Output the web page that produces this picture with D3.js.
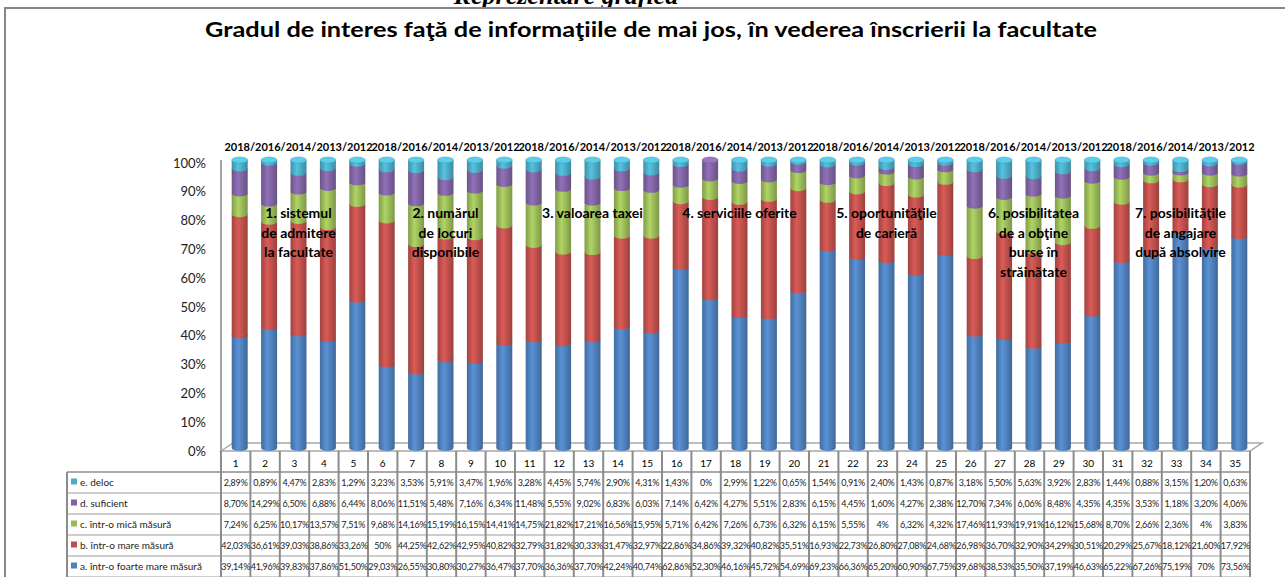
<!DOCTYPE html>
<html>
<head>
<meta charset="utf-8">
<script src="https://cdnjs.cloudflare.com/ajax/libs/d3/7.8.5/d3.min.js"></script>
<style>
    body { margin: 0; background: #fff; }
    svg { display: block; font-family: Lato, "Open Sans", sans-serif; }
</style>
</head>
<body>
<svg id="chart" width="1285" height="577"></svg>
<script>
var columns = ["1","2","3","4","5","6","7","8","9","10","11","12","13","14","15","16","17","18",
    "19","20","21","22","23","24","25","26","27","28","29","30","31","32","33","34","35"];

var seriesNames = ["a. într-o foarte mare măsură", "b. într-o  mare măsură", "c. într-o mică  măsură",
    "d. suficient", "e. deloc"];
var seriesColors = ["#4F81BD", "#C0504D", "#9BBB59", "#8064A2", "#4BACC6"];

var foarteMare = [39.14, 41.96, 39.83, 37.86, 51.50, 29.03, 26.55, 30.80, 30.27, 36.47, 37.70, 36.36,
    37.70, 42.24, 40.74, 62.86, 52.30, 46.16, 45.72, 54.69, 69.23, 66.36, 65.20, 60.90, 67.75, 39.68,
    38.53, 35.50, 37.19, 46.63, 65.22, 67.26, 75.19, 70, 73.56];
var mare = [42.03, 36.61, 39.03, 38.86, 33.26, 50, 44.25, 42.62, 42.95, 40.82, 32.79, 31.82, 30.33,
    31.47, 32.97, 22.86, 34.86, 39.32, 40.82, 35.51, 16.93, 22.73, 26.80, 27.08, 24.68, 26.98, 36.70,
    32.90, 34.29, 30.51, 20.29, 25.67, 18.12, 21.60, 17.92];
var mica = [7.24, 6.25, 10.17, 13.57, 7.51, 9.68, 14.16, 15.19, 16.15, 14.41, 14.75, 21.82, 17.21,
    16.56, 15.95, 5.71, 6.42, 7.26, 6.73, 6.32, 6.15, 5.55, 4, 6.32, 4.32, 17.46, 11.93, 19.91, 16.12,
    15.68, 8.70, 2.66, 2.36, 4, 3.83];
var suficient = [8.70, 14.29, 6.50, 6.88, 6.44, 8.06, 11.51, 5.48, 7.16, 6.34, 11.48, 5.55, 9.02,
    6.83, 6.03, 7.14, 6.42, 4.27, 5.51, 2.83, 6.15, 4.45, 1.60, 4.27, 2.38, 12.70, 7.34, 6.06, 8.48,
    4.35, 4.35, 3.53, 1.18, 3.20, 4.06];
var deloc = [2.89, 0.89, 4.47, 2.83, 1.29, 3.23, 3.53, 5.91, 3.47, 1.96, 3.28, 4.45, 5.74, 2.90,
    4.31, 1.43, 0, 2.99, 1.22, 0.65, 1.54, 0.91, 2.40, 1.43, 0.87, 3.18, 5.50, 5.63, 3.92, 2.83, 1.44,
    0.88, 3.15, 1.20, 0.63];

var yearsLabel = "2018/2016/2014/2013/2012";
var groupTitles = [
    ["1. sistemul", "de admitere", "la facultate"],
    ["2. numărul", "de locuri", "disponibile"],
    ["3. valoarea taxei"],
    ["4. serviciile oferite"],
    ["5. oportunităţile", "de carieră"],
    ["6. posibilitatea", "de a obţine", "burse în", "străinătate"],
    ["7. posibilităţile", "de angajare", "după absolvire"]
];
var yTicks = [0, 10, 20, 30, 40, 50, 60, 70, 80, 90, 100];

var allSeries = [foarteMare, mare, mica, suficient, deloc];

var svg = d3.select("#chart");
var defs = svg.append("defs");

// outer frame + heading that is cut off by the page top
svg.append("text")
    .attr("x", 566).attr("y", 4)
    .attr("text-anchor", "middle")
    .style("font-family", "'Liberation Serif', serif")
    .style("font-style", "italic").style("font-weight", "bold")
    .style("font-size", "26px")
    .text("Reprezentare grafică");

svg.append("rect")
    .attr("x", 5).attr("y", 8).attr("width", 1290).attr("height", 600)
    .attr("fill", "none").attr("stroke", "#868686").attr("stroke-width", 2);

svg.append("text")
    .attr("x", 651).attr("y", 37)
    .attr("text-anchor", "middle")
    .style("font-weight", "bold").style("font-size", "20px")
    .attr("textLength", 892).attr("lengthAdjust", "spacingAndGlyphs")
    .text("Gradul de interes faţă de informaţiile de mai jos, în vederea înscrierii la facultate");

var x = d3.scaleBand().domain(columns).range([221, 1250]);
var y = d3.scaleLinear().domain([0, 100]).range([448, 160]);
var depth = 4;
var barW = 16;
var ry = 3;

// cylinder gradients
seriesColors.forEach(function(c, i) {
    var g = defs.append("linearGradient").attr("id", "cyl" + i)
        .attr("x1", "0%").attr("x2", "100%").attr("y1", "0%").attr("y2", "0%");
    g.append("stop").attr("offset", "0%").attr("stop-color", d3.color(c).darker(0.5));
    g.append("stop").attr("offset", "40%").attr("stop-color", d3.color(c).brighter(0.35));
    g.append("stop").attr("offset", "100%").attr("stop-color", d3.color(c).darker(0.6));
});

// floor and axis line
var floorPts = [[221, 451], [233, 443], [1262, 443], [1250, 451]];
svg.append("path")
    .attr("d", "M" + floorPts.join("L") + "Z")
    .attr("fill", "none").attr("stroke", "#a6a6a6").attr("stroke-width", 1.5);
svg.append("line")
    .attr("x1", 221).attr("x2", 221).attr("y1", 160).attr("y2", 451)
    .attr("stroke", "#a6a6a6").attr("stroke-width", 2);

var yAxis = svg.append("g")
    .attr("transform", "translate(209,3)")
    .call(d3.axisLeft(y).tickValues(yTicks).tickSize(0).tickFormat(function(d) { return d + "%"; }));
yAxis.select(".domain").remove();
yAxis.selectAll("text").style("font-size", "13px").style("font-family", "Lato, sans-serif")
    .attr("fill", "#222");

// stacked cylinders
var bars = svg.append("g");
columns.forEach(function(col, i) {
    var cx = x(col) + x.bandwidth() / 2 + depth;
    var x0 = cx - barW / 2, x1 = cx + barW / 2;
    var cum = 0;
    var topIdx = 0;
    allSeries.forEach(function(s, k) {
        var v = s[i];
        if (v <= 0) return;
        var yb = y(cum), yt = y(cum + v);
        cum += v;
        topIdx = k;
        bars.append("path")
            .attr("d", "M" + x0 + "," + yt + "L" + x1 + "," + yt + "L" + x1 + "," + yb +
                "A" + (barW / 2) + "," + ry + " 0 0 1 " + x0 + "," + yb + "Z")
            .attr("fill", "url(#cyl" + k + ")");
    });
    bars.append("ellipse")
        .attr("cx", cx).attr("cy", y(cum)).attr("rx", barW / 2).attr("ry", ry)
        .attr("fill", d3.color(seriesColors[topIdx]).brighter(0.5))
        .attr("stroke", d3.color(seriesColors[topIdx]).darker(0.2)).attr("stroke-width", 0.5);
});

// years above each group, topic names over the bars
groupTitles.forEach(function(lines, g) {
    var cx = x(columns[g * 5 + 2]) + x.bandwidth() / 2 + depth;
    svg.append("text")
        .attr("x", cx).attr("y", 151)
        .attr("text-anchor", "middle")
        .style("font-weight", "bold").style("font-size", "11px")
        .text(yearsLabel);

    var t = svg.append("text")
        .attr("text-anchor", "middle")
        .style("font-weight", "bold").style("font-size", "14px")
        .attr("fill", "#000");
    lines.forEach(function(line, j) {
        t.append("tspan").attr("x", cx).attr("y", 218 + j * 19.5).text(line);
    });
});

// data table
var rowTops = [472, 493, 514, 535, 556, 577];
var table = svg.append("g");
var gridColor = "#8c8c8c";

table.append("line").attr("x1", 67).attr("x2", 1250).attr("y1", rowTops[0]).attr("y2", rowTops[0])
    .attr("stroke", gridColor).attr("stroke-width", 1.5);
rowTops.slice(1).forEach(function(yy) {
    table.append("line").attr("x1", 67).attr("x2", 1250).attr("y1", yy).attr("y2", yy)
        .attr("stroke", "#bdbdbd").attr("stroke-width", 1.5);
});
table.append("line").attr("x1", 67).attr("x2", 67).attr("y1", 472).attr("y2", 577)
    .attr("stroke", gridColor).attr("stroke-width", 2);
columns.concat(["end"]).forEach(function(col, i) {
    var xx = 221 + i * x.step();
    table.append("line").attr("x1", xx).attr("x2", xx).attr("y1", 451).attr("y2", 577)
        .attr("stroke", gridColor).attr("stroke-width", 2);
});

table.selectAll(".colnum")
    .data(columns)
    .enter().append("text")
    .attr("x", function(d) { return x(d) + x.bandwidth() / 2; })
    .attr("y", 467)
    .attr("text-anchor", "middle")
    .style("font-size", "10px")
    .text(function(d) { return d; });

var fmt = function(v) {
    return (Math.round(v * 100) % 100 === 0 ? String(Math.round(v)) : v.toFixed(2).replace(".", ",")) + "%";
};

// rows top to bottom: e, d, c, b, a
[4, 3, 2, 1, 0].forEach(function(k, r) {
    var mid = (rowTops[r] + rowTops[r + 1]) / 2;
    table.append("rect")
        .attr("x", 71).attr("y", mid - 4).attr("width", 6).attr("height", 6)
        .attr("fill", seriesColors[k]);
    table.append("text")
        .attr("x", 80).attr("y", mid + 3.5)
        .style("font-size", "10px").attr("fill", "#222")
        .text(seriesNames[k]);
    table.selectAll(".v" + k)
        .data(allSeries[k])
        .enter().append("text")
        .attr("x", function(d, i) { return x(columns[i]) + x.bandwidth() / 2; })
        .attr("y", mid + 3.5)
        .attr("text-anchor", "middle")
        .style("font-size", "9px").style("letter-spacing", "-0.2px").attr("fill", "#222")
        .text(fmt);
});
</script>
</body>
</html>
